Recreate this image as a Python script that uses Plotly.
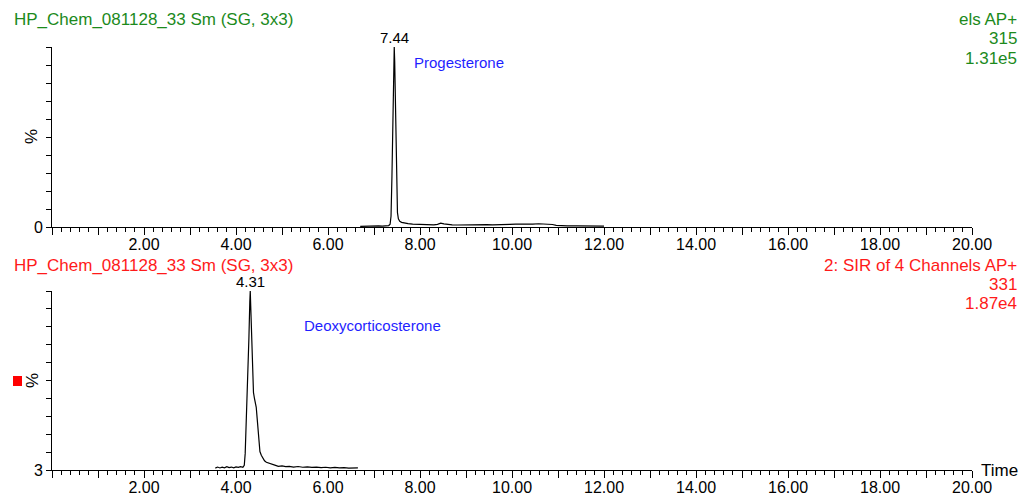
import plotly.graph_objects as go

# ---- chromatogram data (retention time in min, relative intensity in %) ----
prog_time = [6.70, 6.78, 6.86, 6.94, 7.02, 7.10, 7.18, 7.26, 7.32, 7.35, 7.37, 7.39,
             7.41, 7.43, 7.44, 7.45, 7.47, 7.49, 7.51, 7.53, 7.56, 7.60, 7.66, 7.74,
             7.84, 7.95, 8.06, 8.18, 8.30, 8.38, 8.45, 8.52, 8.60, 8.70, 8.82, 8.95,
             9.08, 9.20, 9.32, 9.45, 9.58, 9.70, 9.82, 9.95, 10.08, 10.20, 10.32, 10.45,
             10.58, 10.70, 10.80, 10.88, 10.96, 11.05, 11.20, 11.40, 11.60, 11.80, 12.00]
prog_pct = [0.4, 0.5, 0.4, 0.6, 0.5, 0.6, 0.5, 0.7, 0.8, 1.5, 6, 28,
            66, 95, 100, 92, 58, 24, 8, 4.5, 3.2, 2.6, 2.2, 1.9,
            1.6, 1.5, 1.3, 1.3, 1.2, 1.5, 2.1, 1.7, 1.3, 1.2, 1.1, 1.2,
            1.0, 1.2, 1.1, 1.3, 1.2, 1.4, 1.3, 1.5, 1.6, 1.5, 1.7, 1.6,
            1.8, 1.7, 1.8, 1.4, 0.9, 0.7, 0.6, 0.6, 0.5, 0.5, 0.5]

doc_time = [3.55, 3.60, 3.65, 3.70, 3.75, 3.80, 3.85, 3.90, 3.95, 4.00, 4.05, 4.10,
            4.15, 4.18, 4.20, 4.22, 4.24, 4.26, 4.28, 4.30, 4.31, 4.32, 4.34, 4.36,
            4.38, 4.40, 4.42, 4.44, 4.46, 4.48, 4.50, 4.52, 4.55, 4.58, 4.62, 4.66,
            4.70, 4.75, 4.80, 4.86, 4.92, 5.00, 5.08, 5.16, 5.25, 5.35, 5.45, 5.55,
            5.65, 5.75, 5.85, 5.95, 6.05, 6.15, 6.25, 6.35, 6.45, 6.55, 6.65]
doc_pct = [4.0, 4.6, 4.1, 4.5, 4.2, 4.8, 4.3, 4.6, 4.2, 4.7, 4.4, 4.8,
           4.5, 5.5, 12, 25, 40, 56, 74, 94, 100, 92, 72, 55,
           45, 42, 39, 37, 31, 24, 17, 13, 11, 9.5, 8.0, 7.2,
           6.8, 6.2, 5.8, 5.5, 5.0, 5.2, 4.8, 5.0, 4.6, 4.9, 4.5, 4.7,
           4.4, 4.6, 4.3, 4.5, 4.2, 4.4, 4.1, 4.3, 4.0, 4.2, 4.1]

# ---- labels ----
peak_rt = [7.44, 4.31]
compounds = ["Progesterone", "Deoxycorticosterone"]
file_title = "HP_Chem_081128_33 Sm (SG, 3x3)"
top_info = ["els AP+", "315", "1.31e5"]
bottom_info = ["2: SIR of 4 Channels AP+", "331", "1.87e4"]
x_major = list(range(0, 21))
x_labels = ["" if (v % 2 or v == 0) else f"{v:.2f}" for v in x_major]
top_y_min, bottom_y_min = 0, 3

W, H = 1024, 496
FONT = "Liberation Sans, Arial, sans-serif"
GREEN = "#1c8a1c"
RED = "#ff1a1a"
BLUE = "#1f1fff"


def px(x):
    return x / W


def py(y):
    return 1 - y / H


fig = go.Figure()
fig.add_trace(go.Scatter(x=prog_time, y=prog_pct, mode="lines",
                         line=dict(color="black", width=1.2),
                         xaxis="x", yaxis="y", showlegend=False))
fig.add_trace(go.Scatter(x=doc_time, y=doc_pct, mode="lines",
                         line=dict(color="black", width=1.2),
                         xaxis="x2", yaxis="y2", showlegend=False))

xdom = [px(52), px(972)]
xaxis_common = dict(
    range=[0, 20], domain=xdom, showgrid=False, zeroline=False,
    showline=True, linecolor="black", linewidth=1, automargin=False,
    tickmode="array", tickvals=x_major, ticktext=x_labels,
    ticks="outside", ticklen=7, tickcolor="black", tickwidth=1,
    ticklabelstandoff=-4,
    minor=dict(dtick=0.2, tick0=0, ticks="outside", ticklen=4,
               tickcolor="black", tickwidth=1, showgrid=False),
    tickfont=dict(family=FONT, size=16, color="black"),
)


def yaxis_for(ymin, dom, anchor):
    step = (100 - ymin) / 10
    vals = [ymin + i * step for i in range(11)]
    text = [str(ymin)] + [""] * 10
    return dict(range=[ymin, 100], domain=dom, anchor=anchor,
                showgrid=False, zeroline=False, showline=True,
                linecolor="black", linewidth=1, automargin=False,
                tickmode="array", tickvals=vals, ticktext=text,
                ticks="outside", ticklen=5, tickcolor="black", tickwidth=1,
                tickfont=dict(family=FONT, size=16, color="black"))


fig.update_layout(
    width=W, height=H,
    margin=dict(l=0, r=0, t=0, b=0, pad=0, autoexpand=False),
    paper_bgcolor="white", plot_bgcolor="white",
    xaxis=dict(xaxis_common, anchor="y"),
    yaxis=yaxis_for(top_y_min, [py(227), py(47)], "x"),
    xaxis2=dict(xaxis_common, anchor="y2"),
    yaxis2=yaxis_for(bottom_y_min, [py(470), py(291)], "x2"),
)

ann = []


def text(x, y, s, color, size, xanchor="left", angle=0):
    ann.append(dict(x=px(x), y=py(y), xref="paper", yref="paper", text=s,
                    showarrow=False, xanchor=xanchor, yanchor="middle",
                    textangle=angle,
                    font=dict(family=FONT, size=size, color=color)))


# panel headers
text(12, 20, file_title, GREEN, 17)
text(12, 265, file_title, RED, 17)
for s, y in zip(top_info, [20, 39, 59]):
    text(1019, y, s, GREEN, 17, xanchor="right")
for s, y in zip(bottom_info, [265, 284, 303]):
    text(1019, y, s, RED, 17, xanchor="right")

# y-axis "%" labels
text(32, 137, "%", "black", 17, xanchor="center", angle=-90)
text(32, 381, "%", "black", 17, xanchor="center", angle=-90)
text(979, 470, "Time", "black", 17)

# compound names
text(412, 63, compounds[0], BLUE, 15)
text(302, 325, compounds[1], BLUE, 15)

# peak retention-time labels
for rt, xa, ya in [(peak_rt[0], "x", "y"), (peak_rt[1], "x2", "y2")]:
    ann.append(dict(x=rt, y=100, xref=xa, yref=ya, text=f"{rt:.2f}",
                    showarrow=False, xanchor="center", yanchor="bottom",
                    yshift=-1, font=dict(family=FONT, size=15, color="black")))

fig.update_layout(annotations=ann)

# red channel marker
fig.add_shape(type="rect", xref="paper", yref="paper",
              x0=px(13), x1=px(22), y0=py(386), y1=py(376),
              fillcolor="#ff0000", line=dict(width=0))

fig.write_html("out.html")
